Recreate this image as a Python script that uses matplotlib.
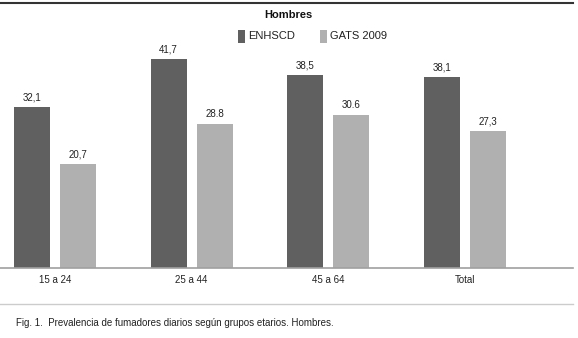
import matplotlib
matplotlib.use("Agg")
import matplotlib.pyplot as plt
import numpy as np
from matplotlib.patches import Rectangle

plt.rcParams['font.family'] = ['Liberation Sans', 'DejaVu Sans']

categories = ["15 a 24", "25 a 44", "45 a 64", "Total"]
enhscd = [32.1, 41.7, 38.5, 38.1]
gats = [20.7, 28.8, 30.6, 27.3]
enhscd_labels = ["32,1", "41,7", "38,5", "38,1"]
gats_labels = ["20,7", "28.8", "30.6", "27,3"]
series_names = ["ENHSCD", "GATS 2009"]
title = "Hombres"
caption = "Fig. 1.  Prevalencia de fumadores diarios según grupos etarios. Hombres."

W, H = 578, 338
fig = plt.figure(figsize=(W/100, H/100), dpi=100)
fig.patch.set_facecolor("white")

dark = "#606060"
light = "#b0b0b0"

ax_bottom = (H - 268) / H
ax_h = 228 / H
ax = fig.add_axes([0, ax_bottom, 1, ax_h])
scale = 136.67
x0 = 55.0
ax.set_xlim(-x0/scale, (W - x0)/scale)
ax.set_ylim(0, 228/5.012)

x = np.arange(len(categories))
bw = 36/scale
off = 23/scale
b1 = ax.bar(x - off, enhscd, bw, color=dark, label=series_names[0])
b2 = ax.bar(x + off, gats, bw, color=light, label=series_names[1])
for rect, lab in zip(b1, enhscd_labels):
    ax.text(rect.get_x() + rect.get_width()/2, rect.get_height() + 0.9, lab,
            ha="center", va="bottom", fontsize=7, color="#222222")
for rect, lab in zip(b2, gats_labels):
    ax.text(rect.get_x() + rect.get_width()/2, rect.get_height() + 0.9, lab,
            ha="center", va="bottom", fontsize=7, color="#222222")

for s in ax.spines.values():
    s.set_visible(False)
ax.set_yticks([])
ax.set_xticks(x)
ax.set_xticklabels(categories, fontsize=7, color="#222222")
ax.tick_params(axis="x", length=0, pad=5)
ax.axhline(0, xmin=0, xmax=573/W, color="#a0a0a0", lw=1.2, clip_on=False, zorder=5)

fig.text(288/W, 1 - 15/H, title, ha="center", va="center", fontsize=8, fontweight="bold", color="#111111")

leg_y = 1 - 36/H
for px, name, col in [(238, series_names[0], dark), (320, series_names[1], light)]:
    fig.patches.append(Rectangle((px/W, 1 - 43/H), 7/W, 13/H, transform=fig.transFigure,
                                 facecolor=col, edgecolor="none"))
    fig.text((px + 10)/W, leg_y, name, ha="left", va="center", fontsize=8, color="#222222")

fig.add_artist(plt.Line2D([1/W, 573/W], [1 - 2.5/H, 1 - 2.5/H], transform=fig.transFigure,
                          color="#333333", lw=1.5))
fig.add_artist(plt.Line2D([0, 573/W], [1 - 304/H, 1 - 304/H], transform=fig.transFigure,
                          color="#cccccc", lw=1))

fig.text(16/W, 1 - 323/H, caption, ha="left", va="center", fontsize=7, color="#222222")

fig.savefig("out.png", dpi=100, facecolor="white")
